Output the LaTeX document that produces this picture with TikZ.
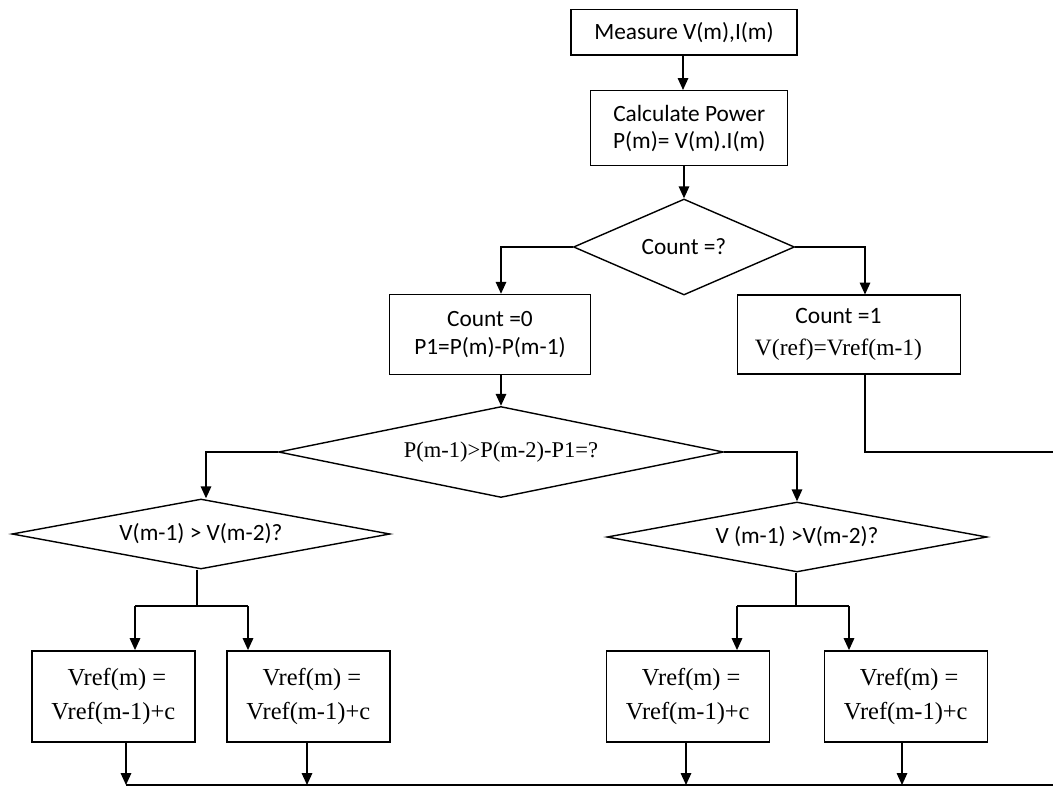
\documentclass[tikz,border=0pt]{standalone}
\usepackage{fontspec}
\setmainfont{Liberation Serif}
\newfontfamily\calfont{Carlito}
\usetikzlibrary{shapes.geometric,arrows.meta}
\begin{document}
\begin{tikzpicture}[x=0.25mm,y=-0.25mm,
  box/.style={draw,line width=1pt,inner sep=0pt,align=center},
  dec/.style={draw,diamond,line width=1pt,inner sep=0pt,align=center},
  arr/.style={line width=1pt,-{Triangle[width=7.5pt,length=8.5pt]}},
  ln/.style={line width=1pt},
  cal/.style={font=\calfont\fontsize{16.6}{19}\selectfont},
  cal20/.style={font=\calfont\fontsize{16.6}{20}\selectfont},
  tms/.style={font=\fontsize{16}{24}\selectfont},
  tmsbig/.style={font=\fontsize{17.4}{24}\selectfont}]
\useasboundingbox (0,0) rectangle (1053,787);
% boxes
\node[box,cal,minimum width=226*0.25mm,minimum height=45.5*0.25mm] (b1) at (684,32.3) {Measure V(m),I(m)};
\node[box,cal,minimum width=197*0.25mm,minimum height=75*0.25mm] (b2) at (689.2,128.2) {Calculate Power\\P(m)= V(m).I(m)};
\node[dec,cal,shape aspect=2.3,minimum width=221*0.25mm,minimum height=96*0.25mm] (d1) at (684,247) {Count =?};
\node[box,cal20,minimum width=201*0.25mm,minimum height=80*0.25mm] (b3) at (490,334.5) {Count =0\\P1=P(m)-P(m-1)};
\node[box,font=\fontsize{16.7}{23}\selectfont,minimum width=223*0.25mm,minimum height=79*0.25mm] (b4) at (849,334.7) {{\calfont Count =1}\hspace*{15pt}\\V(ref)=Vref(m-1)\hspace*{15pt}};
\node[dec,tms,shape aspect=5,minimum width=445*0.25mm,minimum height=91*0.25mm] (d2) at (501,452) {P(m-1)>P(m-2)-P1=?};
\node[dec,cal,shape aspect=5.4,minimum width=378*0.25mm,minimum height=70*0.25mm] (d3) at (201,534) {V(m-1) > V(m-2)?};
\node[dec,cal,shape aspect=5.4,minimum width=380*0.25mm,minimum height=70*0.25mm] (d4) at (797,537) {V (m-1) >V(m-2)?};
\node[box,tmsbig,minimum width=163*0.25mm,minimum height=91*0.25mm] (b5) at (113.3,696.3) {\hspace*{5pt}Vref(m) =\\Vref(m-1)+c};
\node[box,tmsbig,minimum width=163*0.25mm,minimum height=91*0.25mm] (b6) at (308.3,696.3) {\hspace*{5pt}Vref(m) =\\Vref(m-1)+c};
\node[box,tmsbig,minimum width=163*0.25mm,minimum height=91*0.25mm] (b7) at (687.7,696.3) {\hspace*{5pt}Vref(m) =\\Vref(m-1)+c};
\node[box,tmsbig,minimum width=163*0.25mm,minimum height=91*0.25mm] (b8) at (905.7,696.3) {\hspace*{5pt}Vref(m) =\\Vref(m-1)+c};
% helper coordinates
\coordinate (k1) at (683,0);
\coordinate (k3) at (501,0);
\coordinate (k4) at (865,0);
\coordinate (k5) at (206,0);
\coordinate (eR) at (1053,452);
\coordinate (j3) at (197,606);
\coordinate (j3a) at (135,606);
\coordinate (j3b) at (248,606);
\coordinate (j4) at (796,606);
\coordinate (j4a) at (737,606);
\coordinate (j4b) at (849,606);
\coordinate (o5) at (126,785);
\coordinate (o6) at (307,785);
\coordinate (o7) at (686,785);
\coordinate (o8) at (902,785);
\coordinate (eB) at (1053,785);
% connectors
\draw[arr] (b1.south -| k1) -- (b2.north -| k1);
\draw[arr] (b2.south -| d1.north) -- (d1.north);
\draw[arr] (d1.west) -| (b3.north -| k3);
\draw[arr] (d1.east) -| (b4.north -| k4);
\draw[ln] (b4.south -| k4) |- (eR);
\draw[arr] (b3.south -| d2.north) -- (d2.north);
\draw[arr] (d2.west) -| (d3.north -| k5);
\draw[arr] (d2.east) -| (d4.north);
\draw[ln] (d3.south -| j3) -- (j3);
\draw[ln] (j3a) -- (j3b);
\draw[arr] (j3a) -- (b5.north -| j3a);
\draw[arr] (j3b) -- (b6.north -| j3b);
\draw[ln] (d4.south -| j4) -- (j4);
\draw[ln] (j4a) -- (j4b);
\draw[arr] (j4a) -- (b7.north -| j4a);
\draw[arr] (j4b) -- (b8.north -| j4b);
\draw[arr] (b5.south -| o5) -- (o5);
\draw[arr] (b6.south -| o6) -- (o6);
\draw[arr] (b7.south -| o7) -- (o7);
\draw[arr] (b8.south -| o8) -- (o8);
\draw[ln] (o5) -- (eB);
\end{tikzpicture}
\end{document}
